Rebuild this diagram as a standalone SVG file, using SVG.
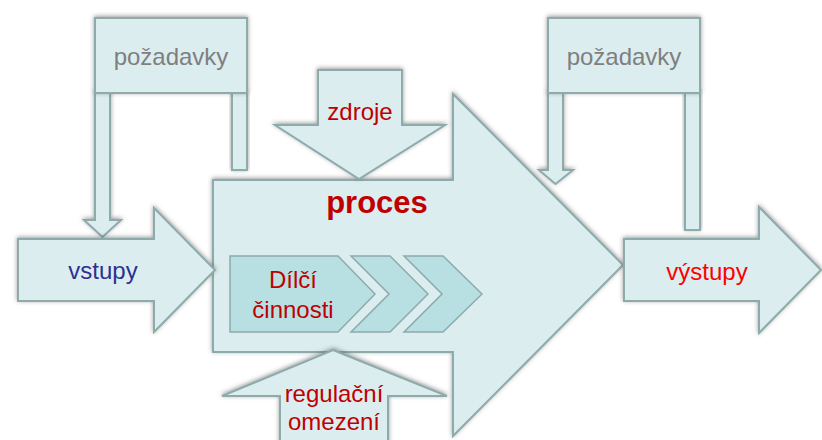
<svg xmlns="http://www.w3.org/2000/svg" width="822" height="440" viewBox="0 0 822 440">
<defs>
<filter id="sh" x="-20%" y="-20%" width="140%" height="140%">
<feDropShadow dx="0" dy="-1" stdDeviation="2.2" flood-color="#4a4a4a" flood-opacity="0.55"/>
</filter>
</defs>
<style>
.s{fill:#dbedef;stroke:#8eabab;stroke-width:2;stroke-linejoin:miter;filter:url(#sh)}
.c{fill:#b8dfe2;stroke:#8eabab;stroke-width:1.5}
text{font-family:"Liberation Sans",Arial,sans-serif;font-size:24px;text-anchor:middle}
.red{fill:#c00000}
.gray{fill:#7f7f7f}
</style>
<rect width="822" height="440" fill="#ffffff"/>
<g id="proces">
<polygon class="s" points="213,180 453,180 453,94 623,265 453,436 453,352 213,352"/>
<text x="377" y="213" class="red" style="font-size:31px;font-weight:bold">proces</text>
</g>
<g id="dilci-cinnosti">
<polygon class="c" points="230,256 338,256 375,294 338,332 230,332"/>
<polygon class="c" points="351,256 390,256 428,294 390,332 351,332 389,294"/>
<polygon class="c" points="404,256 443,256 482,294 443,332 404,332 442,294"/>
<text x="293" y="288" class="red">Dílčí</text>
<text x="293" y="318" class="red">činnosti</text>
</g>
<g id="pozadavky-vstup">
<polygon class="s" points="232,92 247,92 247,170 232,170"/>
<polygon class="s" points="95,92 110,92 110,220 121,220 102.5,237 84,220 95,220"/>
<rect class="s" x="95" y="18" width="152" height="75"/>
<text x="171" y="65" class="gray">požadavky</text>
</g>
<g id="pozadavky-vystup">
<polygon class="s" points="685,92 700,92 700,230 685,230"/>
<polygon class="s" points="548,92 563,92 563,170 573,170 555.5,184 539,170 548,170"/>
<rect class="s" x="548" y="18" width="152" height="75"/>
<text x="624" y="65" class="gray">požadavky</text>
</g>
<g id="zdroje">
<polygon class="s" points="318,70 402,70 402,125 445,125 359,179 275,125 318,125"/>
<text x="360" y="120" class="red">zdroje</text>
</g>
<g id="regulacni-omezeni">
<polygon class="s" points="333,350 447,396 388,396 388,446 280,446 280,396 222,396"/>
<text x="334" y="402" class="red">regulační</text>
<text x="334" y="430" class="red">omezení</text>
</g>
<g id="vstupy">
<polygon class="s" points="18,239 154,239 154,208 215,270 154,332 154,301 18,301"/>
<text x="103" y="279" style="fill:#2e3192">vstupy</text>
</g>
<g id="vystupy">
<polygon class="s" points="624,239 759,239 759,207 821,270 759,333 759,301 624,301"/>
<text x="707" y="280" style="fill:#ff0000">výstupy</text>
</g>
</svg>
